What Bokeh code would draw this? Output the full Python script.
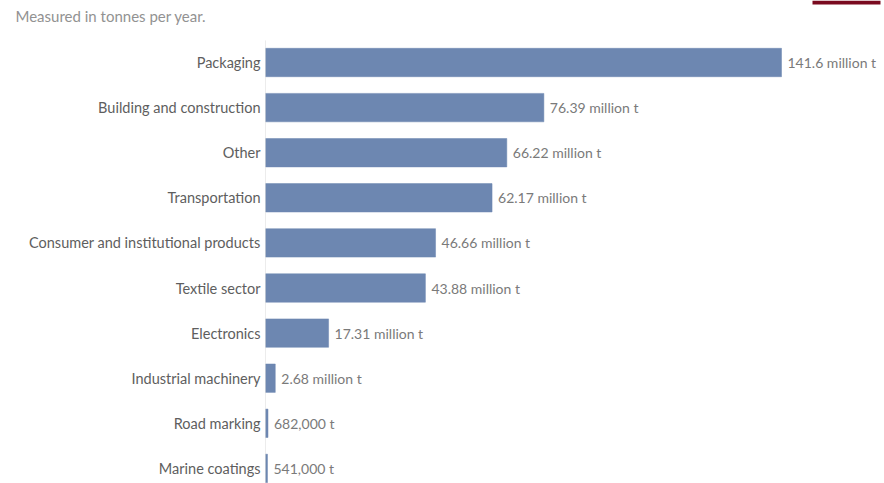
from bokeh.plotting import figure
from bokeh.models import Range1d, Label, BoxAnnotation, ColumnDataSource
from bokeh.embed import file_html
from bokeh.resources import INLINE
from bokeh.core.properties import value

sectors = ["Packaging", "Building and construction", "Other", "Transportation",
           "Consumer and institutional products", "Textile sector", "Electronics",
           "Industrial machinery", "Road marking", "Marine coatings"]
values_mt = [141.6, 76.39, 66.22, 62.17, 46.66, 43.88, 17.31, 2.68, 0.682, 0.541]
value_labels = ["141.6 million t", "76.39 million t", "66.22 million t", "62.17 million t",
                "46.66 million t", "43.88 million t", "17.31 million t", "2.68 million t",
                "682,000 t", "541,000 t"]
subtitle = "Measured in tonnes per year."

idx = list(range(len(sectors)))
src = ColumnDataSource(dict(y=idx, v=values_mt, lab=value_labels, cat=sectors,
                            zero=[0] * len(idx)))

W, H = 884, 483
left_px = 265
px_per_unit = 516 / 141.6
x_start = -left_px / px_per_unit
x_end = (W - left_px) / px_per_unit

p = figure(width=W, height=H, output_backend="svg", toolbar_location=None,
           x_range=Range1d(x_start, x_end), y_range=Range1d(9.335, -1.375),
           min_border=0)
p.outline_line_color = None
p.grid.visible = False
p.axis.visible = False
p.background_fill_color = "white"
p.border_fill_color = "white"

# axis line
p.add_layout(BoxAnnotation(left=0, right=0, top=-0.49, fill_alpha=0,
                           line_color="#dcdcdc", line_width=1))

p.hbar(y="y", left=0, right="v", height=0.63, source=src,
       fill_color="#6d87b1", line_color="#6d87b1", line_width=0.5)
p.text(x="v", y="y", text="lab", source=src, x_offset=6,
       text_baseline="middle", text_align="left", text_font=value("Lato"),
       text_font_size="14px", text_color="#7a7a7a")
p.text(x="zero", y="y", text="cat", source=src, x_offset=-5,
       text_baseline="middle", text_align="right", text_font=value("Lato"),
       text_font_size="14.5px", text_color="#5e5e5e")

p.add_layout(Label(x=15, y=H - 15, x_units="screen", y_units="screen",
                   text=subtitle, text_font="Lato", text_font_size="15px",
                   text_color="#929292", text_baseline="middle"))
p.add_layout(BoxAnnotation(left=812, right=880, top=H, bottom=H - 4,
                           left_units="screen", right_units="screen",
                           top_units="screen", bottom_units="screen",
                           fill_color="#7a0a1f", fill_alpha=1, line_color=None))

open("out.html", "w").write(file_html(p, INLINE))
